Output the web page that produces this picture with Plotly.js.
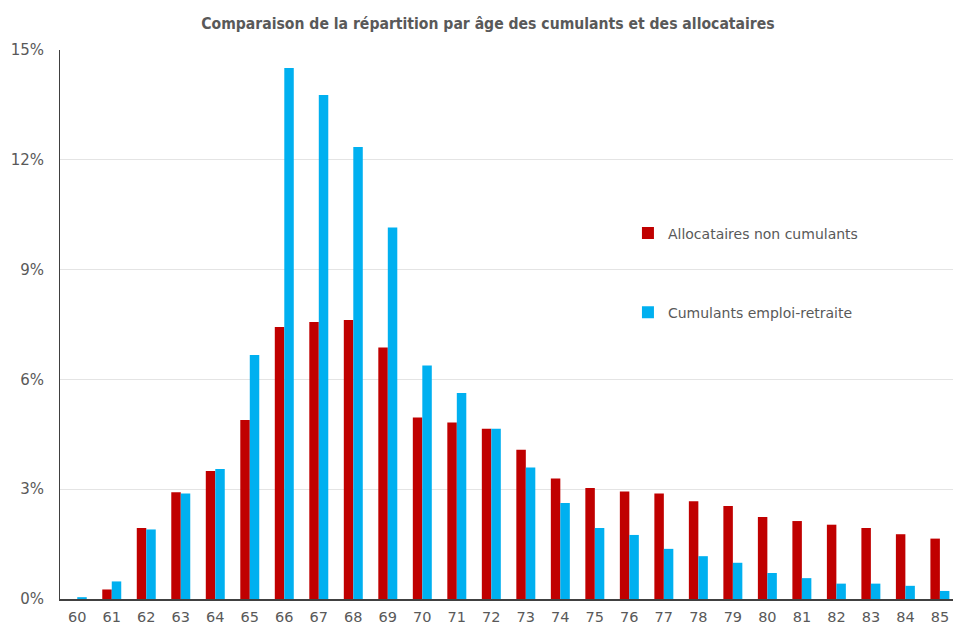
<!DOCTYPE html>
<html>
<head>
<meta charset="utf-8">
<script src="https://cdn.plot.ly/plotly-3.0.1.min.js"></script>
<style>html,body{margin:0;padding:0;background:#fff;overflow:hidden}#chart{width:953px;height:628px}</style>
</head>
<body>
<div id="chart"></div>
<script>
const ages = [60,61,62,63,64,65,66,67,68,69,70,71,72,73,74,75,76,77,78,79,80,81,82,83,84,85];
const allocataires = [0.00,0.26,1.94,2.92,3.50,4.89,7.43,7.57,7.62,6.87,4.96,4.82,4.65,4.08,3.29,3.03,2.94,2.88,2.67,2.54,2.24,2.13,2.03,1.94,1.77,1.65];
const cumulants = [0.05,0.48,1.90,2.88,3.55,6.67,14.51,13.77,12.35,10.15,6.38,5.63,4.65,3.59,2.62,1.94,1.75,1.37,1.17,0.99,0.71,0.57,0.42,0.42,0.36,0.22];
const yTicks = [0,3,6,9,12,15];
const yTickText = ["0%","3%","6%","9%","12%","15%"];
const names = ["Allocataires non cumulants","Cumulants emploi-retraite"];

const font = "DejaVu Sans, Verdana, sans-serif";
const data = [
  {type:'bar', x:ages, y:allocataires, name:names[0], legendgroup:'a', marker:{color:'#C00000'}, hoverinfo:'x+y'},
  {type:'bar', x:ages, y:cumulants, name:names[1], legendgroup:'b', marker:{color:'#00B0F0'}, hoverinfo:'x+y'}
];
const layout = {
  width:953, height:628,
  margin:{l:60, r:0, t:50, b:29},
  paper_bgcolor:'#fff', plot_bgcolor:'#fff',
  title:{text:'Comparaison de la répartition par âge des cumulants et des allocataires', x:0.512, xanchor:'center', y:0.963, yanchor:'middle',
         font:{family:'DejaVu Sans Condensed, DejaVu Sans, sans-serif', size:15.6, color:'#595959', weight:'bold'}},
  barmode:'group', bargap:0.45, bargroupgap:0,
  xaxis:{range:[59.5,85.38], tickmode:'array', tickvals:ages, ticktext:ages.map(String), showgrid:false, zeroline:false,
         showline:true, linecolor:'#404040', linewidth:1.5, ticks:'', ticklabelstandoff:4,
         tickfont:{family:font, size:14.5, color:'#595959'}, fixedrange:true},
  yaxis:{range:[0,15], tickmode:'array', tickvals:yTicks, ticktext:yTickText, showgrid:true, gridcolor:'#e4e4e4', gridwidth:1,
         zeroline:false, showline:true, linecolor:'#404040', linewidth:1, ticks:'', ticklabelstandoff:12,
         tickfont:{family:font, size:15, color:'#595959'}, fixedrange:true},
  showlegend:true,
  legend:{x:0.636, y:0.695, xanchor:'left', yanchor:'top', traceorder:'grouped', tracegroupgap:58, bgcolor:'rgba(0,0,0,0)',
          font:{family:font, size:14, color:'#595959'}, itemwidth:30},
  font:{family:font, color:'#595959'}
};
Plotly.newPlot('chart', data, layout, {displayModeBar:false, staticPlot:true});
</script>
</body>
</html>
